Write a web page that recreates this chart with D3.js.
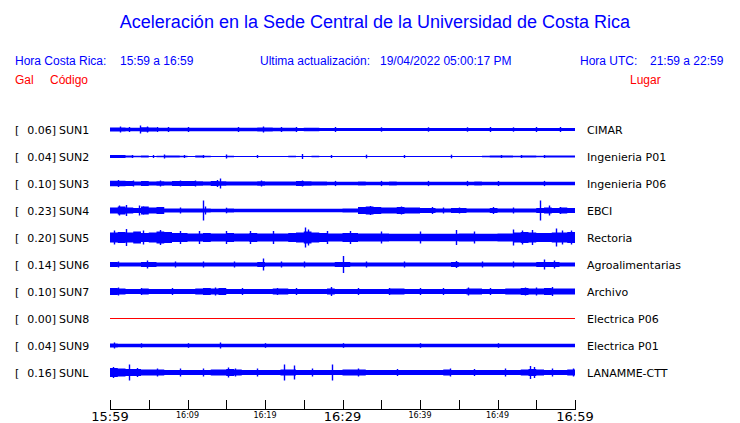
<!DOCTYPE html>
<html><head><meta charset="utf-8">
<script src="https://cdn.jsdelivr.net/npm/d3@7"></script>
<style>body{margin:0;background:#fff}svg{display:block}</style>
</head><body>
<script>
// ---------- DATA ----------
const codes = ["SUN1","SUN2","SUN3","SUN4","SUN5","SUN6","SUN7","SUN8","SUN9","SUNL"];
const places = ["CIMAR","Ingenieria P01","Ingenieria P06","EBCI","Rectoria","Agroalimentarias","Archivo","Electrica P06","Electrica P01","LANAMME-CTT"];
const peaks = ["0.06","0.04","0.10","0.23","0.20","0.14","0.10","0.00","0.04","0.16"];
// envelope half-amplitude per minute bin (60 bins, arbitrary units)
const env1 = [2,2,1.8,1.8,2.2,2,1.8,1.8,1.8,1.8, 1.8,1.8,1.8,1.8,1.8,1.8,1.8,1.8,1.8,2, 2,1.8,1.8,1.8,1.6,1.8,1.8,1.6,1.6,1.6, 1.4,1.4,1.4,1.4,1.4,1.6,1.4,1.4,1.6,1.4, 1.4,1.4,1.4,1.4,1.4,1.4,1.4,1.4,1.6,1.4, 1.6,1.6,1.6,1.6,1.6,1.6,1.6,1.6,1.6,1.6];
const env2 = [1.5,1.5,1,0.8,1,0.6,0.8,1,1,0.8, 0.6,1,0.8,0.6,0.6,0.8,0.6,0.6,0.6,0.6, 0.6,0.6,0.6,0.8,0.6,0.6,0.8,0.6,0.6,0.6, 0.6,0.6,0.6,0.6,0.6,0.6,0.6,0.6,0.6,0.6, 0.6,0.6,0.6,0.6,0.6,0.6,0.6,0.6,0.8,1, 1,1,0.8,1,1,0.8,1,1,1,1];
const env3 = [2.8,2.8,2.4,2,2.4,2,2.2,2,2.4,2.6, 2.4,2.2,2,2.4,2.2,2,2,2,2,2.2, 2,2,2,2,2.4,2.2,2,2,1.8,1.8, 1.8,1.8,2,1.8,1.8,1.8,2,1.8,1.8,1.8, 1.8,1.8,1.8,1.8,1.8,1.8,1.8,2,1.8,1.8, 1.8,1.8,1.8,1.8,1.8,1.8,1.8,1.8,1.8,1.8];
const env4 = [3,4,3,2.5,4,3,3.5,2,2,2, 2,2,2,1.8,1.8,2,1.8,1.8,1.8,1.8, 1.8,1.8,1.8,1.8,1.8,1.8,1.8,1.8,1.8,1.8, 2,2,3.5,4,3.5,3,3,3.5,3,3, 2.5,2.5,2,2,2.5,2.5,2,2,2,2.5, 2,2,2,2,2,2.5,3,2.5,3,2.5];
const env5 = [5,5.5,5,6,4.5,5,6,5.5,4.5,4.5, 4,4,4.5,4,4,4.5,4,4,4.5,4, 4,4,4,4.5,5,6,5,4.5,4,4, 4.5,4.5,4,4,4,4,3.8,3.8,3.8,3.8, 3.8,3.8,3.8,3.8,3.8,4,4,3.8,3.8,3.8, 4,4,5,5.5,5,4.5,4.5,5,5,5.5];
const env6 = [2.5,2,2,2,2.5,2.5,2,2,2,2, 2,2,2,2,2,2,2,2,2,2.5, 2,2,2,2,2,2,2,2,2,2.5, 2.5,2,2,2,2,2,2,2,2,2, 2,2,2,2,2.5,2,2,2,2,2, 2,2,2,2,2,2.5,2.5,2.5,2,2];
const env7 = [3.5,3,2.5,2.5,3,2.5,2.5,2.5,2.5,2.5, 2.5,3,3.5,3,3.5,2.5,2.5,2.5,2.5,2.5, 2.5,3,3,2.5,2.5,2.5,2.5,2.5,3,2.5, 2.5,2.5,2.5,2.5,2.5,2.5,3,3,2.5,2.5, 2.5,2.5,2.5,2.5,2.5,2.5,3,3,2.5,2.5, 2.5,3,3,3.5,3,3,3.5,3,3,3];
const env8 = [0,0,0,0,0,0,0,0,0,0, 0,0,0,0,0,0,0,0,0,0, 0,0,0,0,0,0,0,0,0,0, 0,0,0,0,0,0,0,0,0,0, 0,0,0,0,0,0,0,0,0,0, 0,0,0,0,0,0,0,0,0,0];
const env9 = [2,1.8,1.8,1.8,1.8,1.8,1.8,1.8,1.8,1.8, 1.8,1.8,1.8,1.8,1.8,1.8,1.8,1.8,1.8,1.8, 1.8,1.8,1.8,1.8,1.8,1.8,1.8,1.8,1.8,1.8, 1.8,1.8,1.8,1.8,1.8,1.8,1.8,1.8,1.8,1.8, 1.8,1.8,1.8,1.8,1.8,1.8,1.8,1.8,1.8,1.8, 1.8,1.8,1.8,1.8,1.8,1.8,1.8,1.8,1.8,1.8];
const envL = [4.5,4,3.5,3.5,3,3,3,2.5,2.5,2.5, 2.5,2.5,2.5,3,3,3.5,3,2.5,2.5,2.5, 2.5,2.5,3,3,2.5,2.5,2.5,2.5,2.5,2.5, 3,3,3,2.5,2.5,2.5,2.5,2.5,2.5,2.5, 2.5,2.5,2.5,3,2.5,2.5,2.5,2.5,2.5,2.5, 2.5,2.5,2.5,3,3.5,3,2.5,2.5,2.5,3];
// spikes: [minute, half-amplitude]
const spk1 = [[1.3,3],[3.9,4],[4.8,3],[10,2.5],[19.7,3],[24,2.5],[49,2.5],[58,2.5],[2.5,2.5],[6,2.5],[7.5,2.5],[16.5,2.5],[22,2.5],[29,2.5],[35,2.2],[41,2.2],[46,2.2],[52,2.2],[55,2.5]];
const spk2 = [[7,2],[15,2],[24.8,2.5],[33,1.8],[44,1.8],[2.8,1.5],[5.5,1.5],[9.5,1.5],[12,1.5],[19,1.5],[28.5,1.5],[38,1.5],[50.5,1.5],[53,1.5],[56,1.5]];
const spk3 = [[14.2,5],[13.8,3.5],[24.8,3],[50,2.5],[1,3.5],[3,3],[6.5,3],[9,3],[11,3],[19.5,3],[29,2.6],[35,2.6],[41,2.6],[46,2.6],[56,2.6]];
const spk4 = [[1.2,5],[2,5.5],[3.8,5],[4.2,4],[12,10],[12.3,4],[33.5,4.5],[37.5,4],[49.4,3.5],[55.5,10],[56.6,5],[6.5,3.5],[9,3],[15,2.8],[41.5,3.5],[43,3],[45,3],[52,3],[58,3.5]];
const spk5 = [[2,8.5],[6.5,7.5],[25.1,10],[25.6,8],[44.6,7.5],[52,8],[53.2,7],[57.5,9],[58.3,7],[0.5,7],[4.3,7],[9,6.5],[11.5,6.5],[15,6.5],[18,6.5],[21,6.5],[28,6.5],[31,6.5],[35,6],[40,6],[47,6],[54.5,7.5],[59.5,7]];
const spk6 = [[4.8,4],[8.4,3],[19.8,6],[30,8.5],[44.6,3.5],[56,5],[57.3,4],[25,3],[1,3],[12,3],[16,3],[22,3],[33,3],[38,3],[48,3],[52,3]];
const spk7 = [[1,4],[13.5,4],[21.5,3.5],[28.5,4.5],[36,3.5],[46.2,4],[53.5,4],[57,4.5],[4,3.5],[8,3.5],[17,3.5],[24,3.5],[32,3.5],[40,3.5],[43,3.5],[49,3.5],[55,4]];
const spk8 = [];
const spk9 = [[0.5,3],[14.2,3],[4,2.2],[10,2.3],[20,2.3],[30,2.3],[40,2.3],[50,2.3]];
const spkL = [[0.4,5.5],[2.5,8],[3.5,4.5],[15.2,5],[16.1,4],[22.5,8],[23.7,7],[28.6,8],[43.9,4],[54.2,6.5],[54.7,5.5],[59.7,4],[6,4],[9,4],[12,4],[19,4],[26,4],[32,4],[37,3.5],[47,3.5],[51,4],[57,4]];
const tickMinutes = [0,5,10,15,20,25,30,35,40,45,50,55,60];
const tickLabels = {0:"15:59",10:"16:09",20:"16:19",30:"16:29",40:"16:39",50:"16:49",60:"16:59"};
const bigLabels = [0,30,60];

const envs = [env1,env2,env3,env4,env5,env6,env7,env8,env9,envL];
const spks = [spk1,spk2,spk3,spk4,spk5,spk6,spk7,spk8,spk9,spkL];

// ---------- CHART ----------
const W = 740, H = 423;
const svg = d3.select("body").append("svg").attr("width", W).attr("height", H);
const blue = "#0000ff", red = "#ff0000";
const hdr = "'Liberation Sans', Arial, sans-serif";
const dj = "'DejaVu Sans', sans-serif";

svg.append("text").attr("x", 375).attr("y", 28).attr("text-anchor","middle")
  .attr("font-family", hdr).attr("font-size", 18).attr("fill", blue)
  .text("Aceleración en la Sede Central de la Universidad de Costa Rica");

const hline = [
  [15,"Hora Costa Rica:",blue],[120,"15:59 a 16:59",blue],
  [260,"Ultima actualización:",blue],[380,"19/04/2022 05:00:17 PM",blue],
  [580,"Hora UTC:",blue],[650,"21:59 a 22:59",blue]];
hline.forEach(d => svg.append("text").attr("x", d[0]).attr("y", 65)
  .attr("font-family", hdr).attr("font-size", 12).attr("fill", d[2]).text(d[1]));
[[15,"Gal"],[50,"Código"],[630,"Lugar"]].forEach(d => svg.append("text").attr("x", d[0]).attr("y", 84)
  .attr("font-family", hdr).attr("font-size", 12).attr("fill", red).text(d[1]));

const x = d3.scaleLinear().domain([0,60]).range([110,575]);
const row = d3.scaleBand().domain(codes).range([116, 386]);
const amp = d3.scaleLinear().domain([-20,20]).range([20,-20]);

codes.forEach((c,i) => {
  const cy = row(c) + row.bandwidth()/2;
  const g = svg.append("g").attr("transform", `translate(0,${cy})`);
  const env = envs[i];
  const flat = d3.max(env) === 0;
  const col = flat ? red : blue;
  g.append("line").attr("x1", x(0)).attr("x2", x(60)).attr("y1", 0).attr("y2", 0)
    .attr("stroke", col).attr("stroke-width", 1);
  if (!flat) {
    const area = d3.area().curve(d3.curveStepAfter)
      .x(d => x(d[0])).y0(d => amp(-d[1])).y1(d => amp(d[1]));
    const pts = env.map((v,k) => [k, v]);
    pts.push([60, env[env.length-1]]);
    g.append("path").attr("d", area(pts)).attr("fill", col);
    g.selectAll("line.s").data(spks[i]).join("line").attr("class","s")
      .attr("x1", d => Math.round(x(d[0]))+0.5).attr("x2", d => Math.round(x(d[0]))+0.5)
      .attr("y1", d => amp(-d[1])).attr("y2", d => amp(d[1]))
      .attr("stroke", col).attr("stroke-width", 1.4);
  }
  const ty = cy + 4;
  svg.append("text").attr("x", 15).attr("y", ty).attr("font-family", dj).attr("font-size", 11)
    .attr("fill", "#000").text("[");
  svg.append("text").attr("x", 56).attr("y", ty).attr("text-anchor","end").attr("font-family", dj).attr("font-size", 11)
    .attr("fill", "#000").text(peaks[i] + "]");
  svg.append("text").attr("x", 59).attr("y", ty).attr("font-family", dj).attr("font-size", 11)
    .attr("fill", "#000").text(c);
  svg.append("text").attr("x", 587).attr("y", ty).attr("font-family", dj).attr("font-size", 11)
    .attr("fill", "#000").text(places[i]);
});

// axis
const ax = svg.append("g");
ax.append("line").attr("x1", x(0)).attr("x2", x(60)).attr("y1", 409.5).attr("y2", 409.5).attr("stroke","#000");
ax.selectAll("line.t").data(tickMinutes).join("line").attr("class","t")
  .attr("x1", d => Math.round(x(d))+0.5).attr("x2", d => Math.round(x(d))+0.5)
  .attr("y1", 400).attr("y2", 410).attr("stroke","#000");
ax.selectAll("text").data(Object.keys(tickLabels).map(Number)).join("text")
  .attr("x", d => x(d)).attr("y", d => bigLabels.includes(d) ? 421 : 418)
  .attr("text-anchor","middle").attr("font-family", dj)
  .attr("font-size", d => bigLabels.includes(d) ? 13 : 8)
  .attr("fill","#000").text(d => tickLabels[d]);
</script>
</body></html>
